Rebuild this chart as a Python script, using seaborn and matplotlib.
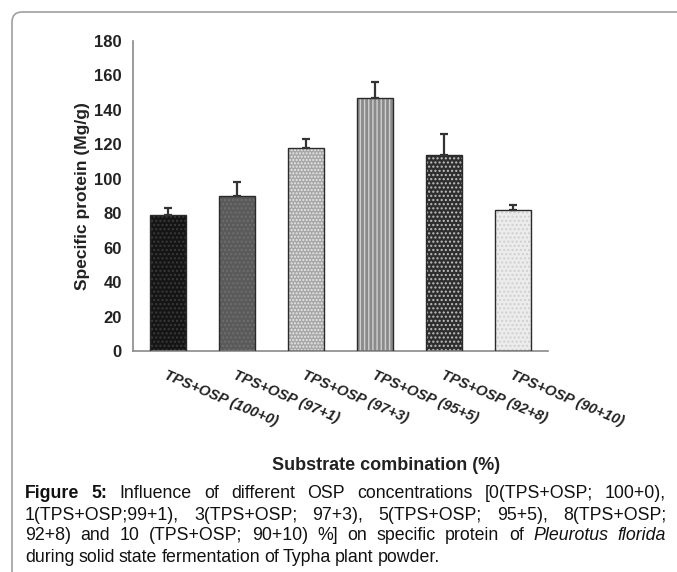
import matplotlib
matplotlib.use("Agg")
import matplotlib.pyplot as plt
import seaborn as sns
import pandas as pd
import numpy as np
from matplotlib.patches import Rectangle, FancyBboxPatch
from matplotlib.transforms import IdentityTransform

categories = ["TPS+OSP (100+0)", "TPS+OSP (97+1)", "TPS+OSP (97+3)",
              "TPS+OSP (95+5)", "TPS+OSP (92+8)", "TPS+OSP (90+10)"]
values = [79, 90, 118, 147, 114, 82]
errors = [4, 8, 5, 9, 12, 3]
yticks = [0, 20, 40, 60, 80, 100, 120, 140, 160, 180]
fills = ["#151515", "#5a5a5a", "#a8a8a8", "#8a8a8a", "#2e2e2e", "#ececec"]
hatches = ["....", "....", ".....", "||||", "....", "...."]
hatch_cols = ["#3a3a3a", "#6e6e6e", "#e8e8e8", "#cfcfcf", "#c0c0c0", "#d0d0d0"]

caption_lines = [
    "Influence of different OSP concentrations [0(TPS+OSP; 100+0),",
    "1(TPS+OSP;99+1), 3(TPS+OSP; 97+3), 5(TPS+OSP; 95+5), 8(TPS+OSP;",
    "92+8) and 10 (TPS+OSP; 90+10) %] on specific protein of Pleurotus florida",
    "during solid state fermentation of Typha plant powder.",
]

sns.set_style("white")
plt.rcParams["font.family"] = ["Liberation Sans", "DejaVu Sans"]
plt.rcParams["hatch.linewidth"] = 1.0

fig = plt.figure(figsize=(6.77, 5.72), dpi=100)
ax = fig.add_axes([133 / 677, 1 - 351 / 572, (548 - 133) / 677, (351 - 41) / 572])

df = pd.DataFrame({"cat": categories, "val": values})
sns.barplot(data=df, x="cat", y="val", hue="cat", palette=fills, legend=False,
            width=0.52, ax=ax, errorbar=None, saturation=1)

for p, h, hc in zip(ax.patches, hatches, hatch_cols):
    p.set_hatch(h)
    p.set_edgecolor(hc)
    p.set_linewidth(0)
    ax.add_patch(Rectangle(p.get_xy(), p.get_width(), p.get_height(), fill=False,
                           edgecolor="#2a2a2a", linewidth=1.0, zorder=3))

x = np.arange(len(categories))
ax.errorbar(x, values, yerr=[np.zeros(len(errors)), errors], fmt="none",
            ecolor="#333333", elinewidth=1.6, capsize=3, capthick=1.6, zorder=4)

ax.set_xlim(-0.5, 5.5)
ax.set_ylim(0, 180)
ax.set_yticks(yticks)
ax.set_yticklabels([str(t) for t in yticks], fontweight="bold", fontsize=12, color="#222222")
ax.set_xticks(x)
ax.set_xticklabels(categories, rotation=-23, ha="left", va="top", rotation_mode="anchor",
                   fontweight="bold", fontstyle="italic", fontsize=10.5, color="#222222")
ax.set_xticks(np.arange(-0.5, 6, 1), minor=True)
ax.tick_params(axis="x", which="major", length=0, pad=12)
ax.tick_params(axis="x", which="minor", length=4, direction="out", color="#888888", width=1)
ax.tick_params(axis="y", length=4, direction="out", color="#888888", width=1, pad=4)
ax.set_xlabel("")
ax.set_ylabel("Specific protein (Mg/g)", fontweight="bold", fontsize=12.5, color="#222222", labelpad=3)
for s in ["top", "right"]:
    ax.spines[s].set_visible(False)
for s in ["left", "bottom"]:
    ax.spines[s].set_color("#8a8a8a")
    ax.spines[s].set_linewidth(1.2)

fig.text(386 / 677, 1 - 465 / 572, "Substrate combination (%)", ha="center", va="center",
         fontweight="bold", fontsize=13, color="#222222")

# outer frame
frame = FancyBboxPatch((12, -50), 740, 572 - 12 + 50, boxstyle="round,pad=0,rounding_size=10",
                       transform=IdentityTransform(), fill=False, edgecolor="#a0a0a0",
                       linewidth=1.2, figure=fig)
fig.patches.append(frame)

# caption, justified
cap_font = ["Liberation Sans Narrow", "Liberation Sans", "DejaVu Sans"]
fs = 12.8
left_px, right_px = 25, 666
ys = [494, 515, 536, 557]
fig.canvas.draw()
renderer = fig.canvas.get_renderer()

def measure(txt, **kw):
    t = fig.text(0, 0, txt, fontsize=fs, family=cap_font, **kw)
    w = t.get_window_extent(renderer).width
    t.remove()
    return w

for i, (line, ypix) in enumerate(zip(caption_lines, ys)):
    words = line.split(" ")
    styles = [{} for _ in words]
    if i == 0:
        words = ["Figure", "5:"] + words
        styles = [{"fontweight": "bold"}, {"fontweight": "bold"}] + styles
    if i == 2:
        styles[-1] = {"fontstyle": "italic"}
        styles[-2] = {"fontstyle": "italic"}
    widths = [measure(w, **s) for w, s in zip(words, styles)]
    total = sum(widths)
    if i < len(caption_lines) - 1:
        gap = (right_px - left_px - total) / (len(words) - 1)
    else:
        gap = 4.0
    xp = left_px
    for w, s, wd in zip(words, styles, widths):
        fig.text(xp / 677, 1 - ypix / 572, w, fontsize=fs, family=cap_font, ha="left",
                 va="center", color="#111111", **s)
        xp += wd + gap

fig.savefig("out.png", dpi=100)
